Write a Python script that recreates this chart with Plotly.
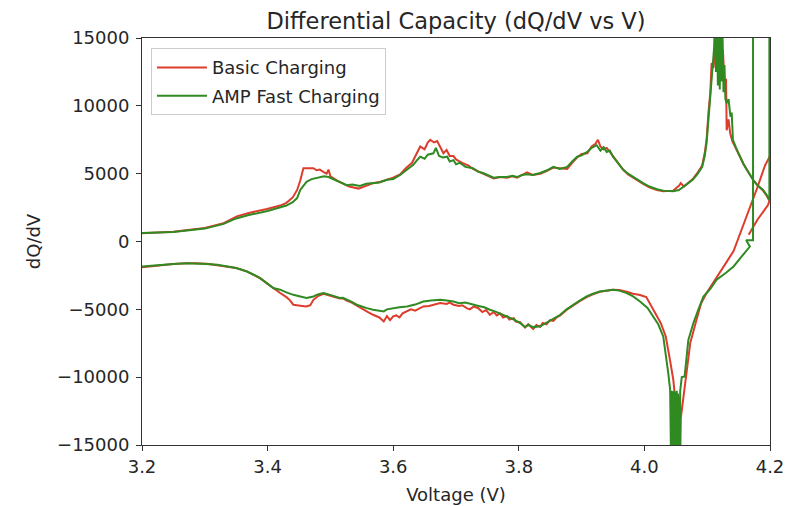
import plotly.graph_objects as go

# ---- Basic Charging (red): charge branch, 3.2 V -> 4.2 V ----
basic_charge_v = [
    3.200, 3.250, 3.300, 3.330, 3.351, 3.370, 3.399, 3.420, 3.430, 3.440,
    3.447, 3.452, 3.457, 3.465, 3.473, 3.478, 3.483, 3.490, 3.494, 3.497,
    3.500, 3.510, 3.520, 3.530, 3.545, 3.555, 3.568, 3.580, 3.590, 3.600,
    3.611, 3.620, 3.630, 3.637, 3.643, 3.650, 3.655, 3.659, 3.665, 3.670,
    3.675, 3.680, 3.685, 3.690, 3.696, 3.700, 3.710, 3.720, 3.727, 3.735,
    3.743, 3.750, 3.760, 3.770, 3.781, 3.790, 3.797, 3.805, 3.813, 3.822,
    3.834, 3.845, 3.855, 3.865, 3.877, 3.885, 3.893, 3.900, 3.909, 3.916,
    3.922, 3.926, 3.930, 3.935, 3.940, 3.945, 3.950, 3.958, 3.966, 3.974,
    3.982, 3.990, 3.998, 4.008, 4.020, 4.030, 4.046, 4.055, 4.058, 4.063,
    4.070, 4.077, 4.085, 4.092, 4.096, 4.099, 4.102, 4.105, 4.107, 4.110,
    4.113, 4.116, 4.120, 4.122, 4.125, 4.127, 4.128, 4.130, 4.131, 4.134,
    4.1365, 4.140, 4.146, 4.152, 4.158, 4.163, 4.168, 4.173, 4.180, 4.189,
    4.195, 4.199, 4.197, 4.180, 4.166,
]
basic_charge_dqdv = [
    600, 720, 1000, 1350, 1850, 2100, 2400, 2650, 2850, 3250,
    3800, 4500, 5400, 5400, 5400, 5250, 5300, 5100, 5000, 5300,
    4800, 4500, 4250, 4050, 3900, 4100, 4300, 4400, 4550, 4700,
    4950, 5400, 5800, 6500, 7000, 6800, 7300, 7500, 7300, 7400,
    6900, 6500, 6750, 6300, 6300, 6050, 5800, 5600, 5350, 5200,
    5000, 4850, 4650, 4750, 4700, 4800, 4700, 4900, 5100, 4900,
    5000, 5200, 5450, 5400, 5350, 5800, 6200, 6450, 6500, 7000,
    7200, 7500, 7000, 6800, 6900, 6600, 6300, 5800, 5300, 4950,
    4700, 4450, 4250, 4000, 3800, 3700, 3750, 4100, 4300, 4050,
    4300, 4600, 5100, 5600, 6500, 7500, 9500, 11000, 13150, 12800,
    14200, 13000, 14600, 13500, 14100, 12000, 11400, 12000, 8200, 9000,
    8000, 7400, 6800, 6200, 5700, 5300, 4900, 4550, 4150, 3750,
    3350, 3000, 2700, 1600, 500,
]

# ---- Basic Charging (red): discharge branch, 4.2 V -> 3.2 V ----
basic_discharge_v = [
    4.200, 4.192, 4.180, 4.170, 4.160, 4.150, 4.142, 4.131, 4.120, 4.110,
    4.099, 4.090, 4.083, 4.073, 4.067, 4.062, 4.059, 4.058, 4.057, 4.055,
    4.053, 4.050, 4.046, 4.041, 4.034, 4.026, 4.018, 4.010, 4.003, 3.993,
    3.982, 3.972, 3.960, 3.950, 3.940, 3.929, 3.918, 3.908, 3.897, 3.887,
    3.876, 3.866, 3.860, 3.855, 3.850, 3.844, 3.838, 3.834, 3.828, 3.823,
    3.815, 3.810, 3.802, 3.795, 3.792, 3.785, 3.781, 3.775, 3.770, 3.765,
    3.760, 3.754, 3.748, 3.742, 3.735, 3.728, 3.722, 3.717, 3.710, 3.705,
    3.696, 3.690, 3.685, 3.675, 3.665, 3.657, 3.648, 3.640, 3.635, 3.628,
    3.622, 3.615, 3.610, 3.605, 3.600, 3.595, 3.590, 3.585, 3.578, 3.572,
    3.568, 3.560, 3.553, 3.548, 3.542, 3.534, 3.526, 3.520, 3.515, 3.505,
    3.497, 3.489, 3.481, 3.473, 3.468, 3.462, 3.455, 3.448, 3.441, 3.435,
    3.430, 3.420, 3.409, 3.398, 3.388, 3.378, 3.367, 3.350, 3.335, 3.320,
    3.303, 3.285, 3.271, 3.250, 3.229, 3.200,
]
basic_discharge_dqdv = [
    6300, 5600, 4000, 2800, 1500, 350, -700, -1500, -2330, -3000,
    -3800, -4600, -5770, -7490, -9700, -11500, -12650, -13000, -16000, -16000,
    -13500, -12000, -10190, -8800, -7000, -6000, -5300, -4600, -4100, -3950,
    -3850, -3700, -3580, -3560, -3620, -3700, -3900, -4100, -4400, -4700,
    -5050, -5450, -5600, -5850, -5800, -6100, -6000, -6300, -6150, -6450,
    -6100, -6350, -5950, -5900, -5650, -5750, -5500, -5600, -5300, -5450,
    -5200, -5400, -5050, -5200, -4900, -4800, -5000, -4910, -4700, -4750,
    -4660, -4500, -4600, -4540, -4650, -4750, -4790, -4950, -5100, -5000,
    -5150, -5300, -5600, -5450, -5520, -5800, -5500, -5900, -5600, -5500,
    -5400, -5200, -5000, -4900, -4700, -4500, -4350, -4200, -4200, -4050,
    -3950, -3850, -4000, -4300, -4700, -4790, -4750, -4700, -4660, -4300,
    -4100, -3800, -3450, -3050, -2700, -2450, -2200, -1950, -1840, -1720,
    -1640, -1600, -1600, -1660, -1750, -1900,
]

# ---- AMP Fast Charging (green): charge branch, 3.2 V -> 4.2 V ----
amp_charge_v = [
    3.200, 3.250, 3.300, 3.330, 3.350, 3.370, 3.400, 3.420, 3.430, 3.440,
    3.447, 3.452, 3.457, 3.462, 3.470, 3.483, 3.490, 3.497, 3.505, 3.515,
    3.526, 3.535, 3.547, 3.557, 3.568, 3.578, 3.590, 3.600, 3.611, 3.622,
    3.632, 3.638, 3.643, 3.650, 3.655, 3.664, 3.668, 3.673, 3.679, 3.686,
    3.690, 3.696, 3.700, 3.706, 3.715, 3.727, 3.735, 3.743, 3.750, 3.760,
    3.770, 3.781, 3.790, 3.797, 3.805, 3.813, 3.822, 3.834, 3.845, 3.855,
    3.865, 3.877, 3.885, 3.893, 3.900, 3.909, 3.916, 3.924, 3.930, 3.935,
    3.940, 3.945, 3.950, 3.958, 3.966, 3.974, 3.982, 3.990, 3.998, 4.008,
    4.020, 4.030, 4.046, 4.055, 4.061, 4.070, 4.077, 4.085, 4.092, 4.096,
    4.099, 4.102, 4.1045, 4.107, 4.109, 4.111, 4.1125, 4.114, 4.1155, 4.117,
    4.1185, 4.120, 4.1215, 4.123, 4.1245, 4.126, 4.1275, 4.129, 4.131, 4.134,
    4.137, 4.139, 4.141, 4.146, 4.152, 4.158, 4.163, 4.168, 4.173, 4.180,
    4.189, 4.195, 4.199, 4.199,
]
amp_charge_dqdv = [
    620, 700, 950, 1300, 1700, 1950, 2250, 2500, 2650, 2900,
    3200, 3800, 4150, 4400, 4600, 4750, 4800, 4750, 4600, 4400,
    4150, 4200, 4100, 4250, 4300, 4350, 4550, 4600, 4900, 5300,
    5650, 6000, 6250, 6100, 6400, 6500, 6900, 6300, 6200, 6250,
    5900, 6000, 5700, 5800, 5500, 5400, 5150, 5050, 4900, 4700,
    4750, 4750, 4850, 4750, 4900, 4950, 4900, 5050, 5250, 5500,
    5350, 5500, 5900, 6250, 6350, 6600, 6900, 7100, 6700, 6950,
    6600, 6700, 6250, 5800, 5300, 5000, 4750, 4500, 4300, 4050,
    3850, 3750, 3700, 3800, 4000, 4250, 4550, 5000, 5500, 6300,
    7250, 9000, 10700, 12200, 13100, 14300, 16500, 12500, 16500, 11500,
    16500, 11200, 16500, 11800, 15000, 11000, 13000, 10500, 10200, 10500,
    9200, 9500, 7500, 6900, 6250, 5700, 5300, 4900, 4550, 4150,
    3800, 3400, 3070, 40000,
]

# ---- AMP Fast Charging (green): discharge branch, 4.2 V -> 3.2 V ----
amp_discharge_v = [
    4.173, 4.173, 4.162, 4.168, 4.155, 4.142, 4.130, 4.115, 4.105, 4.094,
    4.086, 4.078, 4.070, 4.064, 4.0595, 4.057, 4.0565, 4.0555, 4.0545, 4.0535,
    4.0525, 4.0515, 4.0505, 4.0495, 4.0485, 4.0475, 4.0465, 4.0455, 4.0445, 4.0435,
    4.0425, 4.0415, 4.041, 4.038, 4.030, 4.022, 4.014, 4.005, 3.993, 3.982,
    3.972, 3.960, 3.950, 3.940, 3.929, 3.918, 3.908, 3.897, 3.887, 3.876,
    3.866, 3.855, 3.844, 3.834, 3.823, 3.815, 3.810, 3.802, 3.792, 3.781,
    3.770, 3.762, 3.754, 3.745, 3.736, 3.728, 3.715, 3.705, 3.696, 3.685,
    3.675, 3.660, 3.648, 3.635, 3.622, 3.610, 3.600, 3.590, 3.585, 3.575,
    3.568, 3.558, 3.548, 3.542, 3.534, 3.526, 3.520, 3.515, 3.505, 3.497,
    3.489, 3.480, 3.473, 3.462, 3.452, 3.441, 3.430, 3.420, 3.409, 3.398,
    3.388, 3.378, 3.367, 3.350, 3.335, 3.320, 3.303, 3.285, 3.271, 3.250,
    3.229, 3.200,
]
amp_discharge_dqdv = [
    40000, 100, 100, -370, -1100, -1840, -2300, -2820, -3500, -4050,
    -5000, -6010, -7250, -9950, -10000, -11000, -16500, -11400, -16500, -11200,
    -16500, -11000, -16500, -11100, -16500, -11000, -16500, -11050, -16500, -11000,
    -16500, -11200, -10930, -9700, -7000, -6100, -5530, -4900, -4420, -4050,
    -3800, -3620, -3560, -3600, -3680, -3850, -4050, -4350, -4660, -5000,
    -5400, -5700, -6010, -6250, -6310, -6150, -6300, -6010, -5750, -5530,
    -5250, -5150, -5030, -4850, -4750, -4660, -4500, -4550, -4420, -4350,
    -4300, -4350, -4420, -4650, -4790, -4850, -4910, -5000, -5150, -5100,
    -5030, -4910, -4750, -4660, -4450, -4300, -4150, -4170, -4000, -3900,
    -3800, -3900, -4050, -4170, -4050, -3930, -3750, -3550, -3430, -3050,
    -2700, -2450, -2210, -1950, -1840, -1720, -1650, -1600, -1600, -1650,
    -1720, -1840,
]

x_ticks = [3.2, 3.4, 3.6, 3.8, 4.0, 4.2]
x_tick_labels = ["3.2", "3.4", "3.6", "3.8", "4.0", "4.2"]
y_ticks = [-15000, -10000, -5000, 0, 5000, 10000, 15000]
y_tick_labels = ["\u221215000", "\u221210000", "\u22125000", "0", "5000", "10000", "15000"]

RED = "#dc3d2c"
GREEN = "#2f8a22"
FONT = "DejaVu Sans"
TEXT = "#262626"

fig = go.Figure()
fig.add_trace(go.Scatter(x=basic_charge_v, y=basic_charge_dqdv, mode="lines",
                         name="Basic Charging", legendgroup="basic",
                         line=dict(color=RED, width=2)))
fig.add_trace(go.Scatter(x=basic_discharge_v, y=basic_discharge_dqdv, mode="lines",
                         name="Basic Charging", legendgroup="basic", showlegend=False,
                         line=dict(color=RED, width=2)))
fig.add_trace(go.Scatter(x=amp_charge_v, y=amp_charge_dqdv, mode="lines",
                         name="AMP Fast Charging", legendgroup="amp",
                         line=dict(color=GREEN, width=2)))
fig.add_trace(go.Scatter(x=amp_discharge_v, y=amp_discharge_dqdv, mode="lines",
                         name="AMP Fast Charging", legendgroup="amp", showlegend=False,
                         line=dict(color=GREEN, width=2)))

axis_common = dict(
    showgrid=False, zeroline=False, showline=True, mirror=True, automargin=False,
    linecolor="#333333", linewidth=1, ticks="outside", ticklen=5,
    tickcolor="#333333", tickwidth=1,
    tickfont=dict(family=FONT, size=18, color=TEXT),
)

fig.update_layout(
    width=790, height=506,
    margin=dict(l=142, r=20, t=38, b=61),
    paper_bgcolor="white", plot_bgcolor="white",
    font=dict(family=FONT, color=TEXT),
    title=dict(text="Differential Capacity (dQ/dV vs V)", x=0.5, xref="paper",
               y=0.958, yref="container", yanchor="middle",
               font=dict(family=FONT, size=22.5, color=TEXT)),
    xaxis=dict(range=[3.2, 4.2], tickvals=x_ticks, ticktext=x_tick_labels,
               title=dict(text="Voltage (V)", font=dict(family=FONT, size=18), standoff=12),
               **axis_common),
    yaxis=dict(range=[-15000, 15000], tickvals=y_ticks, ticktext=y_tick_labels,
               ticklabelstandoff=3,
               title=dict(text="dQ/dV", font=dict(family=FONT, size=18), standoff=11),
               **axis_common),
    legend=dict(x=0.0143, y=0.975, xanchor="left", yanchor="top",
                tracegroupgap=2, itemwidth=50,
                bgcolor="rgba(255,255,255,0.85)", bordercolor="#cccccc", borderwidth=1,
                font=dict(family=FONT, size=18, color=TEXT)),
    showlegend=True,
)

fig.write_html("out.html")
